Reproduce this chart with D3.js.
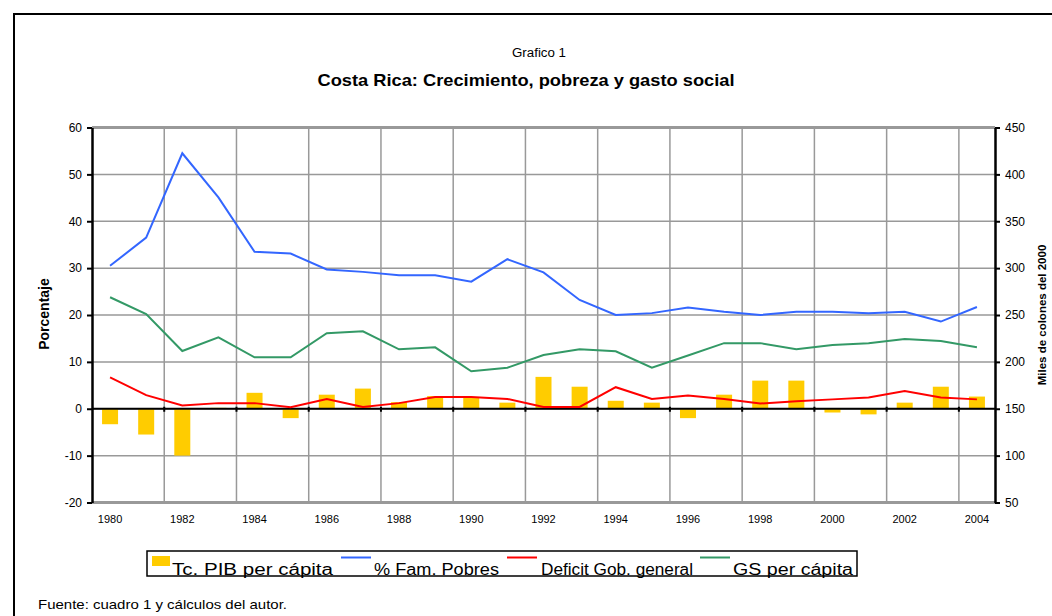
<!DOCTYPE html>
<html>
<head>
<meta charset="utf-8">
<script src="https://cdn.jsdelivr.net/npm/d3@7"></script>
<style>
  body { margin: 0; background: #fff; }
  svg text { font-family: "Liberation Sans", Arial, sans-serif; fill: #000; }
</style>
</head>
<body>
<svg id="chart" width="1052" height="616"></svg>
<script>
// Chart data
var years = ["1980","1981","1982","1983","1984","1985","1986","1987","1988","1989","1990","1991","1992",
             "1993","1994","1995","1996","1997","1998","1999","2000","2001","2002","2003","2004"];
var pibPerCapita = [-3.3, -5.5, -10.0, 0.2, 3.4, -2.0, 3.0, 4.3, 1.4, 2.7, 2.5, 1.3, 6.8,
                    4.7, 1.7, 1.3, -2.0, 3.0, 6.0, 6.0, -0.8, -1.2, 1.3, 4.7, 2.6];
var famPobres = [30.5, 36.5, 54.5, 45.1, 33.5, 33.1, 29.7, 29.2, 28.5, 28.5, 27.1, 31.9, 29.1,
                 23.2, 20.0, 20.4, 21.6, 20.7, 20.0, 20.7, 20.7, 20.4, 20.7, 18.6, 21.7];
var deficit = [6.7, 2.9, 0.7, 1.2, 1.2, 0.3, 2.1, 0.4, 1.2, 2.5, 2.5, 2.1, 0.4,
               0.4, 4.6, 2.1, 2.8, 2.1, 1.1, 1.6, 2.0, 2.4, 3.8, 2.4, 2.0];
var gsPerCapita = [268.9, 251, 211.6, 226.2, 204.9, 204.9, 230.5, 232.6, 213.4, 215.5, 190, 193.8, 207.3,
                   213.4, 211.3, 193.8, 206.8, 220, 220, 213.4, 218, 219.8, 224.4, 222.3, 215.5];
var leftTicks = [-20, -10, 0, 10, 20, 30, 40, 50, 60];
var rightTicks = [50, 100, 150, 200, 250, 300, 350, 400, 450];
var xLabels = years.filter(function(d, i) { return i % 2 == 0; });

var svg = d3.select("svg");

// outer frame
svg.append("rect")
    .attr("x", 14).attr("y", 14)
    .attr("width", 1060).attr("height", 620)
    .attr("fill", "none")
    .attr("stroke", "#000")
    .attr("stroke-width", 2);

// titles
svg.append("text")
    .attr("x", 539).attr("y", 57)
    .attr("text-anchor", "middle")
    .attr("font-size", 12.5)
    .attr("textLength", 54)
    .attr("lengthAdjust", "spacingAndGlyphs")
    .text("Grafico 1");
svg.append("text")
    .attr("x", 526).attr("y", 86)
    .attr("text-anchor", "middle")
    .attr("font-size", 17)
    .attr("font-weight", "bold")
    .attr("textLength", 417)
    .attr("lengthAdjust", "spacingAndGlyphs")
    .text("Costa Rica: Crecimiento, pobreza y gasto social");

// scales
var x = d3.scaleBand().domain(years).range([92, 995]);
var yL = d3.scaleLinear().domain([-20, 60]).range([502.5, 127.5]);
var yR = d3.scaleLinear().domain([50, 450]).range([502.5, 127.5]);

// horizontal grid
svg.append("g").selectAll("line")
    .data(leftTicks)
  .enter().append("line")
    .attr("x1", 92).attr("x2", 995)
    .attr("y1", function(d) { return yL(d); })
    .attr("y2", function(d) { return yL(d); })
    .attr("stroke", "#999")
    .attr("stroke-width", function(d) { return (d == 60 || d == -20) ? 3 : 1.5; });

// vertical grid, every second category
var gridX = d3.range(2, years.length, 2).map(function(i) { return x(years[i]); });
svg.append("g").selectAll("line")
    .data(gridX)
  .enter().append("line")
    .attr("x1", function(d) { return d; })
    .attr("x2", function(d) { return d; })
    .attr("y1", yL(60)).attr("y2", yL(-20))
    .attr("stroke", "#999")
    .attr("stroke-width", 1.5);

// bars
var barW = 16;
svg.append("g").selectAll("rect")
    .data(pibPerCapita)
  .enter().append("rect")
    .attr("x", function(d, i) { return x(years[i]) + x.bandwidth() / 2 - barW / 2; })
    .attr("y", function(d) { return yL(Math.max(0, d)); })
    .attr("width", barW)
    .attr("height", function(d) { return Math.abs(yL(d) - yL(0)); })
    .attr("fill", "#ffcc00");

// zero line with its little ticks
svg.append("line")
    .attr("x1", 92).attr("x2", 995)
    .attr("y1", yL(0)).attr("y2", yL(0))
    .attr("stroke", "#000").attr("stroke-width", 2);
svg.append("g").selectAll("line")
    .data(gridX)
  .enter().append("line")
    .attr("x1", function(d) { return d; })
    .attr("x2", function(d) { return d; })
    .attr("y1", yL(0) - 2).attr("y2", yL(0) + 3)
    .attr("stroke", "#000").attr("stroke-width", 2);

// lines
function cx(i) { return x(years[i]) + x.bandwidth() / 2; }
var lineL = d3.line().x(function(d, i) { return cx(i); }).y(function(d) { return yL(d); });
var lineR = d3.line().x(function(d, i) { return cx(i); }).y(function(d) { return yR(d); });

svg.append("path").datum(famPobres)
    .attr("d", lineL).attr("fill", "none")
    .attr("stroke", "#3366ff").attr("stroke-width", 2);
svg.append("path").datum(deficit)
    .attr("d", lineL).attr("fill", "none")
    .attr("stroke", "#ff0000").attr("stroke-width", 2);
svg.append("path").datum(gsPerCapita)
    .attr("d", lineR).attr("fill", "none")
    .attr("stroke", "#339966").attr("stroke-width", 2);

// axes (plain hyphen for negatives, like the original)
var plain = function(d) { return String(d); };
var axL = svg.append("g")
    .attr("transform", "translate(92,0)")
    .call(d3.axisLeft(yL).tickValues(leftTicks).tickFormat(plain).tickSize(5).tickSizeOuter(0).tickPadding(5));
var axR = svg.append("g")
    .attr("transform", "translate(995,0)")
    .call(d3.axisRight(yR).tickValues(rightTicks).tickFormat(plain).tickSize(5).tickSizeOuter(0).tickPadding(5));
[axL, axR].forEach(function(ax) {
  ax.select(".domain").attr("stroke", "#000").attr("stroke-width", 2.5);
  ax.selectAll(".tick line").attr("stroke", "#000").attr("stroke-width", 2);
  ax.selectAll("text").attr("font-size", 12).attr("font-family", "Liberation Sans, Arial, sans-serif");
});

var axB = svg.append("g")
    .attr("transform", "translate(0,502.5)")
    .call(d3.axisBottom(x).tickValues(xLabels).tickSize(0).tickPadding(13));
axB.select(".domain").remove();
axB.selectAll("text").attr("font-size", 11).attr("font-family", "Liberation Sans, Arial, sans-serif");

// axis titles
svg.append("text")
    .attr("transform", "translate(49,314) rotate(-90)")
    .attr("text-anchor", "middle")
    .attr("font-size", 14)
    .attr("font-weight", "bold")
    .text("Porcentaje");
svg.append("text")
    .attr("transform", "translate(1046,315) rotate(-90)")
    .attr("text-anchor", "middle")
    .attr("font-size", 11.5)
    .attr("font-weight", "bold")
    .text("Miles de colones del 2000");

// legend
var legend = svg.append("g");
legend.append("rect")
    .attr("x", 147).attr("y", 551)
    .attr("width", 710).attr("height", 25)
    .attr("fill", "#fff").attr("stroke", "#000").attr("stroke-width", 1.5);

var legendItems = [
  { label: "Tc. PIB per cápita", color: "#ffcc00", kind: "bar", sx: 152, tx: 172, tw: 161 },
  { label: "% Fam. Pobres", color: "#3366ff", kind: "line", sx: 341, tx: 374, tw: 125 },
  { label: "Deficit Gob. general", color: "#ff0000", kind: "line", sx: 507, tx: 541, tw: 152 },
  { label: "GS per cápita", color: "#339966", kind: "line", sx: 700, tx: 733, tw: 120 }
];
legendItems.forEach(function(d) {
  if (d.kind == "bar") {
    legend.append("rect")
        .attr("x", d.sx).attr("y", 556)
        .attr("width", 18).attr("height", 10)
        .attr("fill", d.color);
  } else {
    legend.append("line")
        .attr("x1", d.sx).attr("x2", d.sx + 30)
        .attr("y1", 557.5).attr("y2", 557.5)
        .attr("stroke", d.color).attr("stroke-width", 2);
  }
  legend.append("text")
      .attr("x", d.tx).attr("y", 575)
      .attr("font-size", 16)
      .attr("textLength", d.tw)
      .attr("lengthAdjust", "spacingAndGlyphs")
      .text(d.label);
});

// source note
svg.append("text")
    .attr("x", 38).attr("y", 609)
    .attr("font-size", 13)
    .attr("textLength", 249)
    .attr("lengthAdjust", "spacingAndGlyphs")
    .text("Fuente: cuadro 1 y cálculos del autor.");
</script>
</body>
</html>
